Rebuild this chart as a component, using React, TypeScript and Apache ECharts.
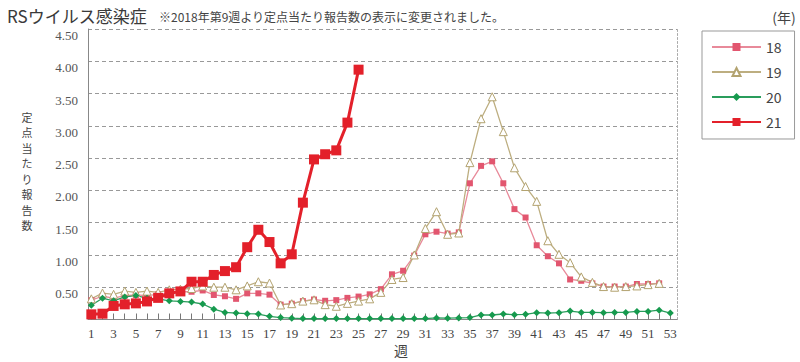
import React, { useEffect, useRef } from 'react';
import * as echarts from 'echarts';

const weeks = [1, 2, 3, 4, 5, 6, 7, 8, 9, 10, 11, 12, 13, 14, 15, 16, 17, 18, 19, 20, 21, 22, 23, 24, 25, 26, 27, 28, 29, 30, 31, 32, 33, 34, 35, 36, 37, 38, 39, 40, 41, 42, 43, 44, 45, 46, 47, 48, 49, 50, 51, 52, 53];
const xTickLabels = [1, 3, 5, 7, 9, 11, 13, 15, 17, 19, 21, 23, 25, 27, 29, 31, 33, 35, 37, 39, 41, 43, 45, 47, 49, 51, 53];
const seriesNames = ['18', '19', '20', '21'];
const yAxisName = '定点当たり報告数';

const s18 = [0.30, 0.36, 0.33, 0.37, 0.38, 0.37, 0.39, 0.41, 0.43, 0.43, 0.45, 0.38, 0.36, 0.32, 0.405, 0.405, 0.385, 0.23, 0.245, 0.285, 0.31, 0.29, 0.30, 0.335, 0.355, 0.39, 0.47, 0.70, 0.755, 0.99, 1.32, 1.36, 1.33, 1.35, 2.11, 2.38, 2.45, 2.11, 1.71, 1.58, 1.15, 0.98, 0.87, 0.62, 0.60, 0.56, 0.51, 0.51, 0.51, 0.55, 0.55, 0.56];
const s19 = [0.32, 0.41, 0.39, 0.44, 0.42, 0.44, 0.42, 0.46, 0.47, 0.48, 0.52, 0.50, 0.50, 0.46, 0.52, 0.585, 0.565, 0.225, 0.245, 0.285, 0.305, 0.23, 0.205, 0.25, 0.285, 0.32, 0.42, 0.62, 0.65, 1.00, 1.41, 1.67, 1.32, 1.34, 2.43, 3.11, 3.45, 2.91, 2.35, 2.06, 1.83, 1.22, 1.01, 0.88, 0.66, 0.575, 0.51, 0.50, 0.51, 0.52, 0.54, 0.56];
const s20 = [0.22, 0.33, 0.29, 0.35, 0.37, 0.33, 0.32, 0.29, 0.28, 0.27, 0.24, 0.16, 0.11, 0.10, 0.09, 0.085, 0.05, 0.03, 0.02, 0.015, 0.015, 0.015, 0.015, 0.015, 0.015, 0.015, 0.015, 0.015, 0.015, 0.015, 0.015, 0.025, 0.02, 0.025, 0.03, 0.07, 0.07, 0.085, 0.075, 0.08, 0.105, 0.10, 0.105, 0.13, 0.11, 0.11, 0.105, 0.11, 0.11, 0.125, 0.125, 0.145, 0.10];
const s21 = [0.08, 0.09, 0.21, 0.235, 0.25, 0.28, 0.335, 0.405, 0.435, 0.585, 0.585, 0.69, 0.75, 0.81, 1.12, 1.39, 1.20, 0.87, 1.01, 1.81, 2.48, 2.56, 2.62, 3.05, 3.87];

const pair = (arr: number[]) => arr.map((v, i) => [weeks[i], v]);

export default function App() {
  const ref = useRef<HTMLDivElement>(null);
  useEffect(() => {
    document.body.style.margin = '0';
    const chart = echarts.init(ref.current!, null, { renderer: 'svg' });
    const serif = "'Liberation Serif', 'DejaVu Serif', serif";
    const sans = "'Noto Sans CJK JP', 'Noto Sans', sans-serif";
    const nameChars = Array.from(yAxisName);
    const step = 15.5;
    const startY = 171 - ((nameChars.length - 1) * step) / 2;
    const nameGraphics = nameChars.map((ch, i) => ({
      type: 'text',
      x: 27,
      y: startY + i * step,
      style: { text: ch, font: `11px ${sans}`, fill: '#444', align: 'center', verticalAlign: 'middle' },
    }));
    chart.setOption({
      animation: false,
      backgroundColor: '#ffffff',
      title: [
        {
          text: 'RSウイルス感染症',
          left: 2,
          top: 2,
          textStyle: { fontFamily: sans, fontSize: 17, fontWeight: 'normal', color: '#3a3a3a' },
        },
        {
          text: '※2018年第9週より定点当たり報告数の表示に変更されました。',
          left: 154,
          top: 5,
          textStyle: { fontFamily: sans, fontSize: 12, fontWeight: 'normal', color: '#444' },
        },
      ],
      grid: { left: 88, right: 123, top: 29, bottom: 42.5, containLabel: false },
      legend: {
        data: seriesNames,
        orient: 'vertical',
        left: 702,
        top: 31,
        padding: [9, 13, 10, 9],
        itemWidth: 49,
        itemHeight: 10,
        itemGap: 11,
        borderColor: '#999',
        borderWidth: 1,
        textStyle: { fontFamily: sans, fontSize: 14, color: '#444' },
      },
      xAxis: {
        type: 'value',
        min: 0.7,
        max: 53.6,
        axisLine: { show: true, lineStyle: { color: '#888', width: 1 } },
        axisTick: { show: true, inside: true, length: 6, customValues: weeks, lineStyle: { color: '#777' } },
        axisLabel: { customValues: xTickLabels, fontFamily: serif, fontSize: 13, color: '#444', margin: 7 },
        splitLine: { show: false },
      },
      yAxis: [
        {
          type: 'value',
          min: 0,
          max: 4.5,
          interval: 0.5,
          axisLine: { show: true, lineStyle: { color: '#888', width: 1 } },
          axisTick: { show: false },
          axisLabel: {
            fontFamily: serif,
            fontSize: 13,
            color: '#555',
            margin: 10,
            verticalAlign: 'top',
            formatter: (v: number) => (v === 0 ? '' : v.toFixed(2)),
          },
          splitLine: { show: true, lineStyle: { color: '#999', type: [4, 3], width: 1 } },
        },
        {
          type: 'value',
          min: 0,
          max: 4.5,
          position: 'right',
          axisLine: { show: true, lineStyle: { color: '#aaa', type: [2, 2], width: 1 } },
          axisTick: { show: false },
          axisLabel: { show: false },
          splitLine: { show: false },
        },
      ],
      graphic: [
        ...nameGraphics,
        {
          type: 'text',
          x: 401,
          y: 350,
          style: { text: '週', font: `14px ${sans}`, fill: '#444', align: 'center', verticalAlign: 'middle' },
        },
        {
          type: 'text',
          x: 784,
          y: 17,
          style: { text: '(年)', font: `14px ${sans}`, fill: '#444', align: 'center', verticalAlign: 'middle' },
        },
      ],
      series: [
        {
          name: '18',
          type: 'line',
          data: pair(s18),
          symbol: 'rect',
          symbolSize: 6,
          lineStyle: { color: '#e88a9a', width: 1.3 },
          itemStyle: { color: '#e2566f' },
        },
        {
          name: '19',
          type: 'line',
          data: pair(s19),
          symbol: 'triangle',
          symbolSize: 8,
          lineStyle: { color: '#bdae80', width: 1.3 },
          itemStyle: { color: '#ffffff', borderColor: '#b3a370', borderWidth: 1 },
        },
        {
          name: '20',
          type: 'line',
          data: pair(s20),
          symbol: 'diamond',
          symbolSize: 7,
          lineStyle: { color: '#2a9d5c', width: 1.3 },
          itemStyle: { color: '#169a4e' },
        },
        {
          name: '21',
          type: 'line',
          data: pair(s21),
          symbol: 'rect',
          symbolSize: 10,
          lineStyle: { color: '#e3202a', width: 3 },
          itemStyle: { color: '#e3202a' },
        },
      ],
    });
    return () => chart.dispose();
  }, []);
  return <div ref={ref} style={{ width: 800, height: 362, position: 'absolute', left: 0, top: 0 }} />;
}
